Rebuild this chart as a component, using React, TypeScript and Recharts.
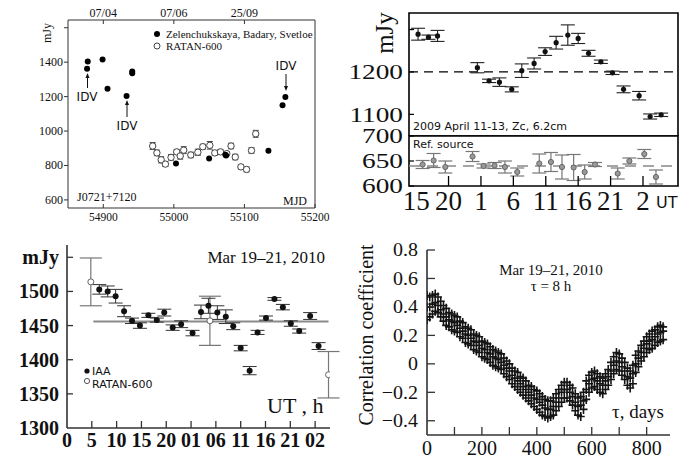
import React from 'react';
import { ScatterChart, Scatter, XAxis, YAxis, ErrorBar, ReferenceLine, ReferenceArea } from 'recharts';

const SERIF = '"Liberation Serif", "Times New Roman", serif';
const SANS = '"DejaVu Sans", Verdana, sans-serif';

// ── Panel 1: J0721+7120 light curve (MJD) ──
const mjdFilled = [54877, 54878, 54899, 54906, 54933, 54941, 54941, 55003, 55050, 55073, 55074, 55134, 55154, 55158];
const fluxFilled = [1362, 1404, 1415, 1246, 1203, 1346, 1336, 812, 840, 862, 858, 885, 1150, 1198];
const mjdRatan = [54970, 54976, 54982, 54988, 54996, 55004, 55009, 55014, 55024, 55034, 55041, 55051, 55058, 55066, 55075, 55081, 55087, 55095, 55103, 55110, 55116];
const fluxRatan = [913, 873, 833, 808, 847, 879, 855, 889, 861, 877, 909, 917, 873, 879, 869, 913, 849, 792, 777, 887, 984];
const errRatan = [20, 16, 18, 14, 16, 14, 18, 20, 16, 18, 14, 22, 14, 14, 12, 16, 16, 12, 14, 16, 20];
const mjdTicks = [54900, 55000, 55100, 55200];
const dateTickMjd = [54900, 55000, 55100];
const dateTickLabels = ['07/04', '07/06', '25/09'];
const p1FluxTicks = [600, 800, 1000, 1200, 1400, 1600];

// ── Panel 2: 2009 April 11-13 ──
const utUpper = [15.3, 16.9, 18.3, 24.45, 26.25, 27.85, 29.75, 31.3, 33.2, 34.9, 36.6, 38.4, 40.0, 41.6, 43.5, 45.3, 47.0, 49.4, 51.1, 52.8];
const fluxUpper = [1289, 1282, 1285, 1210, 1179, 1176, 1159, 1203, 1220, 1248, 1269, 1287, 1279, 1244, 1224, 1198, 1159, 1144, 1095, 1099];
const errUpper = [14, 5, 13, 12, 4, 10, 6, 16, 13, 9, 15, 24, 12, 7, 4, 4, 8, 10, 6, 4];
const upperMean = 1200;
const utRef = [16.0, 17.7, 19.5, 23.7, 25.4, 27.1, 28.7, 30.6, 34.0, 35.8, 37.5, 39.3, 41.0, 42.6, 46.1, 47.9, 50.2, 52.0];
const fluxRef = [643, 651, 638, 659, 640, 641, 638, 628, 645, 648, 638, 637, 628, 643, 625, 650, 664, 618];
const errRef = [8, 14, 12, 10, 4, 6, 12, 8, 19, 19, 24, 26, 14, 4, 11, 6, 9, 14];
const refMean = 640;
const utTicks2 = [15, 20, 25, 30, 35, 40, 45, 50];

// ── Panel 3: Mar 19-21, 2010 ──
const utIaa = [6.5, 8.2, 9.8, 11.5, 13.1, 14.7, 16.4, 18.1, 19.6, 21.3, 23.0, 25.3, 27.0, 28.5, 30.3, 32.0, 33.5, 35.0, 36.8, 38.4, 40.1, 41.8, 43.5, 45.1, 46.8, 49.0, 50.7];
const fluxIaa = [1503, 1500, 1493, 1471, 1457, 1450, 1465, 1458, 1469, 1447, 1452, 1439, 1470, 1479, 1469, 1463, 1449, 1417, 1384, 1440, 1461, 1489, 1477, 1453, 1442, 1464, 1420];
const errIaa = [7, 8, 10, 8, 4, 4, 3, 3, 5, 4, 5, 4, 10, 11, 10, 10, 5, 4, 6, 3, 3, 2, 4, 4, 3, 5, 5];
const utRatan3 = [4.8, 28.8, 52.7];
const fluxRatan3 = [1514, 1457, 1378];
const errRatan3 = [35, 36, 34];
const iaaMean = 1456;
const meanFrom = 5.3;
const meanTo = 52.7;
const utTicks3 = [0, 5, 10, 15, 20, 25, 30, 35, 40, 45, 50];
const fluxTicks3 = [1300, 1350, 1400, 1450, 1500, 1550];

// ── Panel 4: correlation coefficient vs lag ──
const corrLag = [0, 10, 20, 30, 40, 50, 60, 70, 80, 90, 100, 110, 120, 130, 140, 150, 160, 170, 180, 190, 200, 210, 220, 230, 240, 250, 260, 270, 280, 290, 300, 310, 320, 330, 340, 350, 360, 370, 380, 390, 400, 410, 420, 430, 440, 450, 460, 470, 480, 490, 500, 510, 520, 530, 540, 550, 560, 570, 580, 590, 600, 610, 620, 630, 640, 650, 660, 670, 680, 690, 700, 710, 720, 730, 740, 750, 760, 770, 780, 790, 800, 810, 820, 830, 840, 850, 860];
const corrCenter = [0.40, 0.40, 0.42, 0.43, 0.41, 0.38, 0.35, 0.33, 0.31, 0.30, 0.29, 0.27, 0.25, 0.23, 0.21, 0.20, 0.18, 0.16, 0.15, 0.13, 0.11, 0.10, 0.08, 0.07, 0.05, 0.04, 0.03, 0.01, -0.01, -0.03, -0.05, -0.08, -0.10, -0.12, -0.14, -0.16, -0.18, -0.20, -0.22, -0.24, -0.25, -0.27, -0.29, -0.31, -0.32, -0.32, -0.30, -0.27, -0.24, -0.20, -0.18, -0.18, -0.20, -0.23, -0.27, -0.30, -0.29, -0.26, -0.18, -0.14, -0.11, -0.10, -0.12, -0.14, -0.15, -0.12, -0.09, -0.05, -0.01, 0.02, 0.01, -0.02, -0.05, -0.09, -0.10, -0.07, 0.00, 0.04, 0.08, 0.11, 0.14, 0.16, 0.17, 0.19, 0.21, 0.22, 0.23];
const corrUpper = [0.48, 0.47, 0.48, 0.49, 0.47, 0.44, 0.41, 0.39, 0.36, 0.35, 0.34, 0.33, 0.30, 0.29, 0.26, 0.25, 0.24, 0.21, 0.20, 0.19, 0.16, 0.15, 0.14, 0.12, 0.10, 0.09, 0.08, 0.07, 0.04, 0.02, 0.00, -0.03, -0.05, -0.06, -0.09, -0.10, -0.12, -0.15, -0.16, -0.18, -0.19, -0.21, -0.23, -0.25, -0.26, -0.26, -0.24, -0.21, -0.18, -0.15, -0.13, -0.13, -0.15, -0.17, -0.21, -0.24, -0.23, -0.20, -0.12, -0.08, -0.06, -0.05, -0.07, -0.09, -0.10, -0.07, -0.04, 0.01, 0.05, 0.08, 0.07, 0.04, 0.01, -0.03, -0.05, -0.01, 0.06, 0.09, 0.13, 0.16, 0.19, 0.21, 0.23, 0.24, 0.26, 0.27, 0.26];
const corrLower = [0.31, 0.33, 0.35, 0.37, 0.36, 0.33, 0.30, 0.27, 0.26, 0.24, 0.23, 0.22, 0.19, 0.18, 0.15, 0.14, 0.13, 0.10, 0.09, 0.08, 0.05, 0.04, 0.03, 0.01, -0.01, -0.02, -0.03, -0.04, -0.07, -0.09, -0.11, -0.14, -0.16, -0.18, -0.20, -0.22, -0.24, -0.26, -0.28, -0.30, -0.32, -0.34, -0.36, -0.37, -0.38, -0.37, -0.36, -0.33, -0.30, -0.27, -0.24, -0.24, -0.26, -0.29, -0.33, -0.36, -0.37, -0.32, -0.25, -0.20, -0.17, -0.16, -0.18, -0.20, -0.21, -0.18, -0.15, -0.11, -0.07, -0.04, -0.05, -0.08, -0.11, -0.15, -0.17, -0.14, -0.06, -0.02, 0.02, 0.05, 0.08, 0.10, 0.11, 0.13, 0.15, 0.16, 0.17];
const lagTicks = [0, 100, 200, 300, 400, 500, 600, 700, 800];
const corrTicks = [-0.4, -0.2, 0, 0.2, 0.4, 0.6, 0.8];

const zip = (xs: number[], ys: number[], es?: number[]) => xs.map((x, i) => ({ x, y: ys[i], e: es ? es[i] : 0 }));

const p1Filled = zip(mjdFilled, fluxFilled);
const p1Ratan = zip(mjdRatan, fluxRatan, errRatan);
const p2Upper = zip(utUpper, fluxUpper, errUpper);
const p2Ref = zip(utRef, fluxRef, errRef);
const p3Iaa = zip(utIaa, fluxIaa, errIaa);
const p3Ratan = zip(utRatan3, fluxRatan3, errRatan3);
const p4Corr = corrLag.flatMap((x, i) => [
    { x, y: corrUpper[i] },
    { x, y: corrCenter[i] },
    { x, y: corrLower[i] },
]);

// first night (Apr 11) vs the rest, so that both y axes own a series
const firstNight = (d: { x: number }) => d.x < 24;
const laterNights = (d: { x: number }) => d.x >= 24;

// custom tick: draws the (inward) tick mark and the label
interface TickOpts {
    side: 'left' | 'right' | 'bottom' | 'top';
    len: number;
    out?: boolean;
    gap?: number;
    size?: number;
    family?: string;
    weight?: string | number;
    sx?: number;
    fmt?: (v: number) => string;
    color?: string;
    stroke?: string;
    lw?: number;
    skipLine?: (v: number) => boolean;
}

const makeTick = (o: TickOpts) => (p: any) => {
    const x = Number(p.x);
    const y = Number(p.y);
    const v = p.payload?.value;
    const label = o.fmt ? o.fmt(v) : String(v);
    const sx = o.sx ?? 1;
    const gap = o.gap ?? 4;
    const len = o.skipLine && o.skipLine(v) ? 0 : o.len;
    const font: any = {
        fontFamily: o.family ?? SERIF,
        fontSize: o.size ?? 12,
        fontWeight: o.weight ?? 'normal',
        fill: o.color ?? '#111',
    };
    let l = [x, y, x, y];
    let t: any = null;
    if (o.side === 'left') {
        l = o.out ? [x - len, y, x, y] : [x, y, x + len, y];
        t = (
            <text transform={`translate(${x - gap},${y}) scale(${sx},1)`} textAnchor="end" dominantBaseline="central" {...font}>
                {label}
            </text>
        );
    } else if (o.side === 'right') {
        l = [x - len, y, x, y];
    } else if (o.side === 'bottom') {
        l = [x, y - len, x, y];
        t = (
            <text transform={`translate(${x},${y + gap}) scale(${sx},1)`} textAnchor="middle" {...font}>
                {label}
            </text>
        );
    } else {
        l = [x, y, x, y + len];
        t = (
            <text transform={`translate(${x},${y - gap}) scale(${sx},1)`} textAnchor="middle" {...font}>
                {label}
            </text>
        );
    }
    return (
        <g>
            {len > 0 && <line x1={l[0]} y1={l[1]} x2={l[2]} y2={l[3]} stroke={o.stroke ?? '#222'} strokeWidth={o.lw ?? 1} />}
            {label && t}
        </g>
    );
};

const axisBase = {
    type: 'number' as const,
    allowDataOverflow: true,
    interval: 0 as const,
    tickLine: false,
    tickSize: 0,
    tickMargin: 0,
};

const dot = (r: number, fill: string, stroke = 'none', sw = 1) => (p: any) => (
    <circle cx={p.cx} cy={p.cy} r={r} fill={fill} stroke={stroke} strokeWidth={sw} />
);

const cross = (p: any) => (
    <path d={`M${p.cx - 4},${p.cy}h8M${p.cx},${p.cy - 4.5}v9`} stroke="#141414" strokeWidth={1.6} />
);

const corrFmt = (v: number) => (Math.abs(v) < 1e-9 ? '0' : (v < 0 ? '\u2212' : '') + Math.abs(v).toFixed(1));

function Arrow({ x, from, to }: { x: number; from: number; to: number }) {
    const d = to < from ? 1 : -1;
    return (
        <g stroke="#111" fill="#111">
            <line x1={x} y1={from} x2={x} y2={to + d * 3} strokeWidth={1} />
            <path d={`M${x},${to}L${x - 2},${to + d * 5}L${x + 2},${to + d * 5}Z`} stroke="none" />
        </g>
    );
}

function PanelMjd() {
    const dom: [number, number] = [54850, 55200];
    const ydom: [number, number] = [553, 1645];
    return (
        <ScatterChart width={340} height={225} margin={{ top: 2, right: 25, bottom: 0, left: 8 }}>
            <XAxis {...axisBase} dataKey="x" domain={dom} ticks={mjdTicks} height={17} axisLine={false}
                tick={makeTick({ side: 'bottom', len: 4, gap: 13, size: 11.5, stroke: '#333' })} />
            <XAxis {...axisBase} dataKey="x" xAxisId="top" orientation="top" domain={dom} ticks={dateTickMjd} height={18} axisLine={false}
                tick={makeTick({ side: 'top', len: 4, gap: 3, size: 12, stroke: '#333', fmt: (v) => dateTickLabels[dateTickMjd.indexOf(v)] ?? '' })} />
            <YAxis {...axisBase} dataKey="y" domain={ydom} ticks={p1FluxTicks} width={60} axisLine={false}
                tick={makeTick({ side: 'left', len: 4, out: true, gap: 5, size: 12, stroke: '#333', fmt: (v) => (v === 1600 ? '' : String(v)) })} />
            <YAxis {...axisBase} dataKey="y" yAxisId="r" orientation="right" domain={ydom} ticks={p1FluxTicks} width={0} axisLine={false}
                tick={makeTick({ side: 'right', len: 4, stroke: '#333', fmt: () => '' })} />
            <ReferenceArea x1={dom[0]} x2={dom[1]} y1={ydom[0]} y2={ydom[1]} fill="none" stroke="#333" strokeWidth={1} ifOverflow="visible" />
            <Scatter data={p1Ratan} xAxisId="top" isAnimationActive={false} shape={dot(3.2, '#fff', '#444', 1)}>
                <ErrorBar dataKey="e" direction="y" width={3} stroke="#444" strokeWidth={1} isAnimationActive={false} />
            </Scatter>
            <Scatter data={p1Filled} yAxisId="r" isAnimationActive={false} shape={dot(3, '#000')} />
        </ScatterChart>
    );
}

function PanelApril() {
    const dom: [number, number] = [13.9, 55.4];
    const up: [number, number] = [1049, 1339];
    const lo: [number, number] = [600, 700];
    const yTick = { side: 'left' as const, len: 5, gap: 6, size: 21, sx: 1.3, stroke: '#000', lw: 1.2 };
    return (
        <>
            <div style={{ position: 'absolute', left: 340, top: 0 }}>
                <ScatterChart width={357} height={136} margin={{ top: 13, right: 19, bottom: 0, left: 0 }}>
                    <XAxis {...axisBase} dataKey="x" domain={dom} hide />
                    <YAxis {...axisBase} dataKey="y" domain={up} ticks={[1100, 1200, 1300]} width={69} axisLine={false}
                        tick={makeTick({ ...yTick, fmt: (v) => (v === 1300 ? '' : String(v)) })} />
                    <YAxis {...axisBase} dataKey="y" yAxisId="r" orientation="right" domain={up} ticks={[1100, 1200, 1300]} width={0} axisLine={false}
                        tick={makeTick({ side: 'right', len: 7, stroke: '#000', lw: 1.2, fmt: () => '' })} />
                    <ReferenceLine y={upperMean} stroke="#000" strokeWidth={1.3} strokeDasharray="9 6" />
                    <ReferenceArea x1={dom[0]} x2={dom[1]} y1={up[0]} y2={up[1]} fill="none" stroke="#000" strokeWidth={1.6} ifOverflow="visible" />
                    <Scatter data={p2Upper.filter(firstNight)} yAxisId="r" isAnimationActive={false} shape={dot(2.6, '#111')}>
                        <ErrorBar dataKey="e" direction="y" width={7} stroke="#222" strokeWidth={1.1} isAnimationActive={false} />
                    </Scatter>
                    <Scatter data={p2Upper.filter(laterNights)} isAnimationActive={false} shape={dot(2.6, '#111')}>
                        <ErrorBar dataKey="e" direction="y" width={7} stroke="#222" strokeWidth={1.1} isAnimationActive={false} />
                    </Scatter>
                </ScatterChart>
            </div>
            <div style={{ position: 'absolute', left: 340, top: 116 }}>
                <ScatterChart width={357} height={110} margin={{ top: 20, right: 19, bottom: 0, left: 0 }}>
                    <XAxis {...axisBase} dataKey="x" domain={dom} ticks={utTicks2} height={40} axisLine={false}
                        tick={makeTick({ side: 'bottom', len: 10, gap: 24, size: 27, stroke: '#000', lw: 1.3, skipLine: (v) => v === 15, fmt: (v) => String(v % 24) })} />
                    <YAxis {...axisBase} dataKey="y" domain={lo} ticks={[600, 650, 700]} width={69} axisLine={false}
                        tick={makeTick(yTick)} />
                    <YAxis {...axisBase} dataKey="y" yAxisId="r" orientation="right" domain={lo} ticks={[650]} width={0} axisLine={false}
                        tick={makeTick({ side: 'right', len: 7, stroke: '#000', lw: 1.2, fmt: () => '' })} />
                    <ReferenceLine y={refMean} stroke="#888" strokeWidth={1.4} strokeDasharray="11 7" />
                    <ReferenceArea x1={dom[0]} x2={dom[1]} y1={lo[0]} y2={lo[1]} fill="none" stroke="#000" strokeWidth={1.6} ifOverflow="visible" />
                    <Scatter data={p2Ref.filter(firstNight)} yAxisId="r" isAnimationActive={false} shape={dot(2.6, '#999', '#666', 1)}>
                        <ErrorBar dataKey="e" direction="y" width={7} stroke="#777" strokeWidth={1.2} isAnimationActive={false} />
                    </Scatter>
                    <Scatter data={p2Ref.filter(laterNights)} isAnimationActive={false} shape={dot(2.6, '#999', '#666', 1)}>
                        <ErrorBar dataKey="e" direction="y" width={7} stroke="#777" strokeWidth={1.2} isAnimationActive={false} />
                    </Scatter>
                </ScatterChart>
            </div>
        </>
    );
}

function PanelMarch() {
    const dom: [number, number] = [0, 53];
    const ydom: [number, number] = [1300, 1568];
    return (
        <ScatterChart width={340} height={242} margin={{ top: 20, right: 10, bottom: 0, left: 0 }}>
            <XAxis {...axisBase} dataKey="x" domain={dom} ticks={utTicks3} height={39} axisLine={{ stroke: '#333', strokeWidth: 1.6 }}
                tick={makeTick({ side: 'bottom', len: 7, gap: 19, size: 20, weight: 'bold', stroke: '#333', lw: 1.3, skipLine: (v) => v === 0,
                    fmt: (v) => (v < 24 ? String(v) : String(v % 24).padStart(2, '0')) })} />
            <YAxis {...axisBase} dataKey="y" domain={ydom} ticks={fluxTicks3} width={67} axisLine={{ stroke: '#333', strokeWidth: 1.6 }}
                tick={makeTick({ side: 'left', len: 6, gap: 8, size: 20, weight: 'bold', stroke: '#333', lw: 1.3, skipLine: (v) => v === 1300,
                    fmt: (v) => (v === 1550 ? 'mJy' : String(v)) })} />
            <ReferenceLine segment={[{ x: meanFrom, y: iaaMean }, { x: meanTo, y: iaaMean }]} stroke="#8a8a8a" strokeWidth={2} />
            <Scatter data={p3Ratan} isAnimationActive={false} shape={dot(3, '#fff', '#666', 1)}>
                <ErrorBar dataKey="e" direction="y" width={11} stroke="#777" strokeWidth={1.2} isAnimationActive={false} />
            </Scatter>
            <Scatter data={p3Iaa} isAnimationActive={false} shape={dot(3, '#111')}>
                <ErrorBar dataKey="e" direction="y" width={7} stroke="#333" strokeWidth={1} isAnimationActive={false} />
            </Scatter>
        </ScatterChart>
    );
}

function PanelCorr() {
    return (
        <ScatterChart width={357} height={242} margin={{ top: 25, right: 27, bottom: 0, left: 0 }}>
            <XAxis {...axisBase} dataKey="x" domain={[0, 885]} ticks={lagTicks} height={32} axisLine={{ stroke: '#333', strokeWidth: 1.6 }}
                tick={makeTick({ side: 'bottom', len: 8, gap: 20, size: 20, stroke: '#333', lw: 1.3, skipLine: (v) => v === 0,
                    fmt: (v) => (v % 200 === 0 ? String(v) : '') })} />
            <YAxis {...axisBase} dataKey="y" domain={[-0.5, 0.8]} ticks={corrTicks} width={87} axisLine={{ stroke: '#333', strokeWidth: 1.6 }}
                tick={makeTick({ side: 'left', len: 8, gap: 9, size: 19, sx: 1.05, stroke: '#333', lw: 1.3, fmt: corrFmt })} />
            <Scatter data={p4Corr} isAnimationActive={false} shape={cross} />
        </ScatterChart>
    );
}

function Annotations() {
    const serif = { fontFamily: SERIF, fill: '#111' };
    const sans = { fontFamily: SANS, fill: '#111' };
    return (
        <svg width={697} height={467} style={{ position: 'absolute', left: 0, top: 0, pointerEvents: 'none' }}>
            {/* panel 1 */}
            <text transform="translate(47,33) rotate(-90)" textAnchor="middle" dominantBaseline="central" fontSize={12} {...serif}>mJy</text>
            <circle cx={157} cy={34} r={3} fill="#000" />
            <text x={166} y={38} fontSize={11} {...serif}>Zelenchukskaya, Badary, Svetloe</text>
            <circle cx={157} cy={46} r={3} fill="#fff" stroke="#444" />
            <text x={166} y={50} fontSize={11} {...serif}>RATAN-600</text>
            <text x={77} y={201} fontSize={12} {...serif}>J0721+7120</text>
            <text x={283} y={205} fontSize={12} {...serif}>MJD</text>
            <text x={87} y={101} textAnchor="middle" fontSize={12} {...sans}>IDV</text>
            <Arrow x={87.5} from={88} to={73} />
            <text x={127} y={130} textAnchor="middle" fontSize={12} {...sans}>IDV</text>
            <Arrow x={127} from={117} to={100} />
            <text x={286} y={70} textAnchor="middle" fontSize={12} {...sans}>IDV</text>
            <Arrow x={286} from={74} to={91} />

            {/* panel 2 */}
            <text transform="translate(384,33) rotate(-90)" textAnchor="middle" dominantBaseline="central" fontSize={25} {...serif}>mJy</text>
            <text x={413} y={130} fontSize={11} {...sans}>2009 April 11-13, Zc, 6.2cm</text>
            <text x={413} y={148} fontSize={11} {...sans}>Ref. source</text>
            <text x={656} y={208} fontSize={16} {...sans}>UT</text>

            {/* panel 3 */}
            <text x={325} y={263} textAnchor="end" fontSize={17} {...serif}>Mar 19–21, 2010</text>
            <text x={267} y={413} fontSize={22} {...serif}>UT , h</text>
            <circle cx={87} cy={371} r={2.6} fill="#111" />
            <text x={92} y={375} fontSize={11} {...sans}>IAA</text>
            <circle cx={87} cy={381} r={2.6} fill="#fff" stroke="#555" />
            <text x={92} y={388} fontSize={11} {...sans}>RATAN-600</text>

            {/* panel 4 */}
            <text transform="translate(366,335) rotate(-90)" textAnchor="middle" dominantBaseline="central" fontSize={20} {...serif}>Correlation coefficient</text>
            <text x={551} y={275} textAnchor="middle" fontSize={15} {...serif}>Mar 19–21, 2010</text>
            <text x={551} y={291} textAnchor="middle" fontSize={15} {...serif}>τ = 8 h</text>
            <text x={612} y={418} fontSize={19} {...serif}>τ, days</text>
        </svg>
    );
}

export default function App() {
    return (
        <div style={{ position: 'absolute', left: 0, top: 0, width: 697, height: 467, background: '#fff', overflow: 'hidden' }}>
            <div style={{ position: 'absolute', left: 0, top: 0 }}>
                <PanelMjd />
            </div>
            <PanelApril />
            <div style={{ position: 'absolute', left: 0, top: 225 }}>
                <PanelMarch />
            </div>
            <div style={{ position: 'absolute', left: 340, top: 225 }}>
                <PanelCorr />
            </div>
            <Annotations />
        </div>
    );
}
